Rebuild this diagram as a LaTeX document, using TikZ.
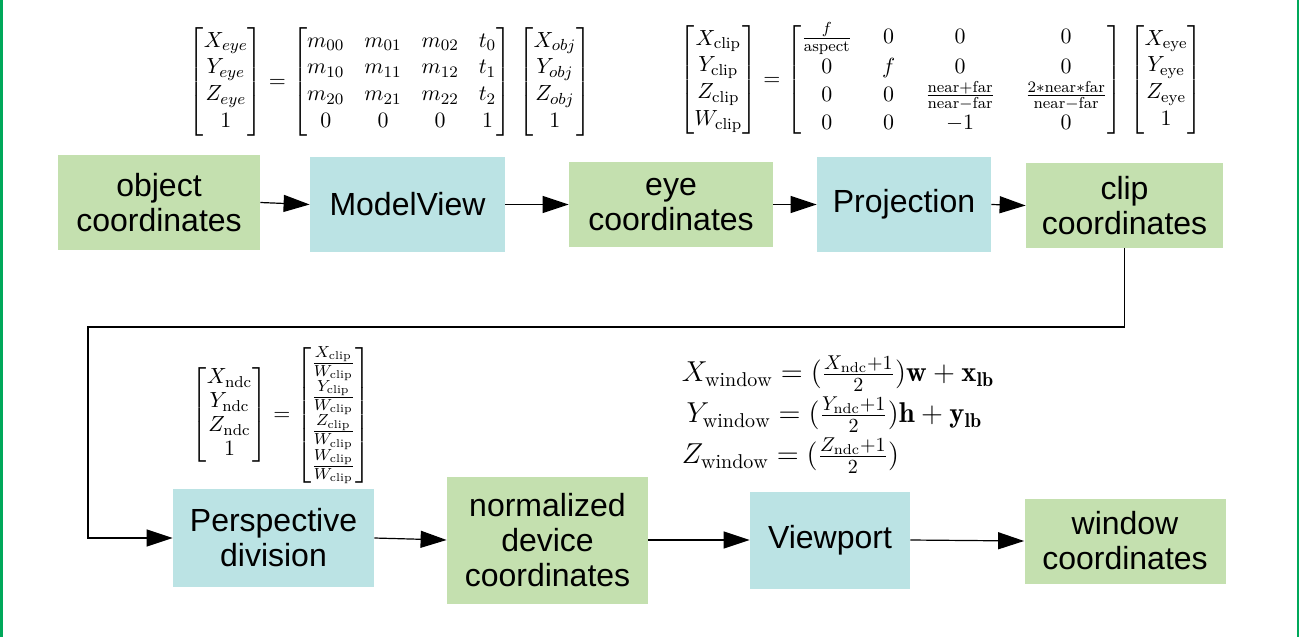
\documentclass[tikz,border=0pt]{standalone}
\usepackage{amsmath,amssymb}
\usepackage{fontspec}
\usepackage{tikz}
\usetikzlibrary{arrows.meta}
\newfontfamily\boxfont{Liberation Sans}
\definecolor{boxgreen}{RGB}{196,224,175}
\definecolor{boxblue}{RGB}{187,227,228}
\definecolor{framegreen}{RGB}{0,168,90}
\tikzset{
  stage/.style={rectangle,inner sep=0pt,align=center,font=\boxfont\fontsize{16}{17.5}\selectfont},
  coordbox/.style={stage,fill=boxgreen},
  opbox/.style={stage,fill=boxblue},
  flow/.style={line width=0.6pt,-{Triangle[length=13pt,width=8.5pt]}},
  eqn/.style={inner sep=0pt,font=\fontsize{11.3}{12}\selectfont}
}

\begin{document}
\begin{tikzpicture}[x=0.5pt,y=-0.5pt]
  \useasboundingbox (0,0) rectangle (1299,637);
  \fill[framegreen] (0,0) rectangle (2.5,637);
  \fill[framegreen] (1296.5,0) rectangle (1299,637);

  \node[coordbox,minimum width=101pt,minimum height=47.5pt] (obj) at (159,202.5) {object\\coordinates};
  \node[opbox,minimum width=97.5pt,minimum height=47.5pt] (mview) at (407.5,204.5) {ModelView};
  \node[coordbox,minimum width=102pt,minimum height=42.5pt] (eye) at (671,204.5) {eye\\coordinates};
  \node[opbox,minimum width=87pt,minimum height=47.5pt] (proj) at (904,204.5) {Projection};
  \node[coordbox,minimum width=98.5pt,minimum height=42.5pt] (clip) at (1124.5,205.5) {clip\\coordinates};

  \node[opbox,minimum width=100.5pt,minimum height=49pt] (persp) at (273.5,538) {Perspective\\division};
  \node[coordbox,minimum width=100.5pt,minimum height=63.5pt] (ndc) at (547.5,540) {normalized\\device\\coordinates};
  \node[opbox,minimum width=80pt,minimum height=48.5pt] (vport) at (830,540) {Viewport};
  \node[coordbox,minimum width=100.5pt,minimum height=42.5pt] (win) at (1125,541) {window\\coordinates};

  \node[eqn] (eqmv) at (390,82) {\def\arraystretch{1.12}$\begin{bmatrix}X_{eye}\\Y_{eye}\\Z_{eye}\\1\end{bmatrix}
    = \begin{bmatrix}m_{00} & m_{01} & m_{02} & t_0\\ m_{10} & m_{11} & m_{12} & t_1\\ m_{20} & m_{21} & m_{22} & t_2\\ 0 & 0 & 0 & 1\end{bmatrix}\,
    \begin{bmatrix}X_{obj}\\Y_{obj}\\Z_{obj}\\1\end{bmatrix}$};
  \node[eqn] (eqproj) at (941,80) {\def\arraystretch{1.12}$\begin{bmatrix}X_{\mathrm{clip}}\\Y_{\mathrm{clip}}\\Z_{\mathrm{clip}}\\W_{\mathrm{clip}}\end{bmatrix}
    = {\setlength{\arraycolsep}{7.5pt}\begin{bmatrix}\frac{f}{\mathrm{aspect}} & 0 & 0 & 0\\ 0 & f & 0 & 0\\
      0 & 0 & \frac{\mathrm{near}+\mathrm{far}}{\mathrm{near}-\mathrm{far}} & \frac{2\ast\mathrm{near}\ast\mathrm{far}}{\mathrm{near}-\mathrm{far}}\\
      0 & 0 & -1 & 0\end{bmatrix}}\,
    \begin{bmatrix}X_{\mathrm{eye}}\\Y_{\mathrm{eye}}\\Z_{\mathrm{eye}}\\1\end{bmatrix}$};
  \node[eqn] (eqndc) at (281,415) {$\begin{bmatrix}X_{\mathrm{ndc}}\\Y_{\mathrm{ndc}}\\Z_{\mathrm{ndc}}\\1\end{bmatrix}
    = \begin{bmatrix}\frac{X_{\mathrm{clip}}}{W_{\mathrm{clip}}}\\ \frac{Y_{\mathrm{clip}}}{W_{\mathrm{clip}}}\\
      \frac{Z_{\mathrm{clip}}}{W_{\mathrm{clip}}}\\ \frac{W_{\mathrm{clip}}}{W_{\mathrm{clip}}}\end{bmatrix}$};
  \node[eqn,align=left,font=\fontsize{14.3}{20.5}\selectfont] (eqwin) at (838,415) {%
    $X_{\mathrm{window}} = (\frac{X_{\mathrm{ndc}}+1}{2})\mathbf{w} + \mathbf{x_{lb}}$\\
    $\,Y_{\mathrm{window}} = (\frac{Y_{\mathrm{ndc}}+1}{2})\mathbf{h} + \mathbf{y_{lb}}$\\
    $Z_{\mathrm{window}} = (\frac{Z_{\mathrm{ndc}}+1}{2})$};

  \coordinate (bendR) at (1124.5,327);
  \coordinate (bendL) at (88,327);

  \draw[flow] (obj.east) -- (mview.west);
  \draw[flow] (mview.east) -- (eye.west);
  \draw[flow] (eye.east) -- (proj.west);
  \draw[flow] (proj.east) -- (clip.west);
  \draw[flow] (clip.south) -- (bendR) -- (bendL) |- (persp.west);
  \draw[flow] (persp.east) -- (ndc.west);
  \draw[flow] (ndc.east) -- (vport.west);
  \draw[flow] (vport.east) -- (win.west);
\end{tikzpicture}
\end{document}
